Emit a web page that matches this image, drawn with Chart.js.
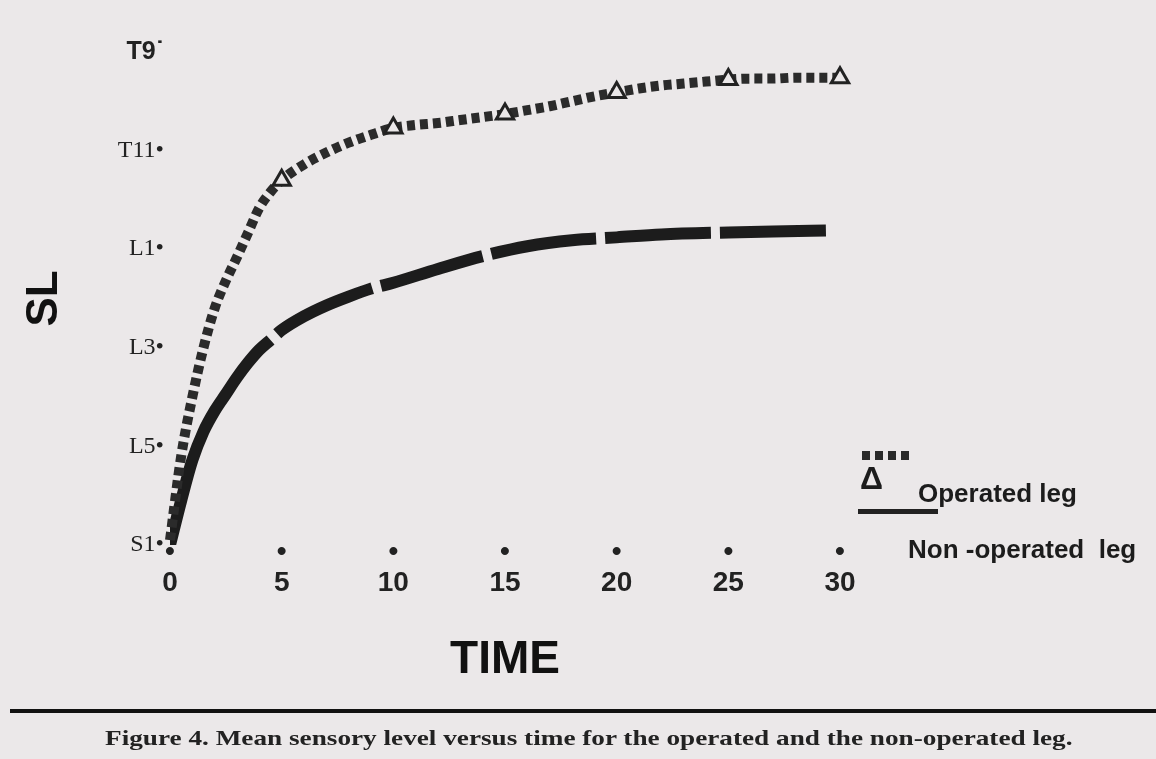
<!DOCTYPE html>
<html lang="en">
<head>
    <meta charset="UTF-8">
    <title>Figure 4 - Mean sensory level versus time</title>
    <script src="https://cdn.jsdelivr.net/npm/chart.js"></script>
    <style>
        html, body { margin: 0; padding: 0; background: #fff; }
        #page {
            position: relative; width: 1156px; height: 759px; overflow: hidden;
            background: #ebe8e9;
        }
        #page canvas { position: absolute; left: 0; top: 0; }
        .legend-text {
            position: absolute; font-family: "Liberation Sans", Arial, sans-serif;
            font-weight: bold; font-size: 26px; color: #1c1c1c; white-space: pre; line-height: 1;
        }
        #squares {
            position: absolute; left: 862px; top: 451px; width: 50px; height: 9px;
            background: repeating-linear-gradient(90deg, #2a2a2a 0 8px, transparent 8px 13px);
        }
        #tri { left: 860px; top: 462px; font-size: 32px; }
        #opLabel { left: 918px; top: 480px; }
        #nonOpLine { position: absolute; left: 858px; top: 509px; width: 80px; height: 5px; background: #222; }
        #nonOpLabel { left: 908px; top: 536px; }
        #rule { position: absolute; left: 10px; top: 709px; width: 1146px; height: 4px; background: #111; }
        #caption {
            position: absolute; left: 105px; top: 726px; transform-origin: 0 0;
            font-family: "Liberation Serif", "Times New Roman", serif; font-weight: bold;
            font-size: 21px; color: #222; white-space: nowrap;
        }
    </style>
</head>
<body>
<div id="page">
    <canvas id="slChart" width="1156" height="759"></canvas>
    <div id="squares"></div>
    <div class="legend-text" id="tri">&#916;</div>
    <div class="legend-text" id="opLabel">Operated leg</div>
    <div id="nonOpLine"></div>
    <div class="legend-text" id="nonOpLabel">Non -operated  leg</div>
    <div id="rule"></div>
    <div id="caption">Figure 4. Mean sensory level versus time for the operated and the non-operated leg.</div>
</div>

<script>
    // sensory levels, bottom to top
    const levelLabels = ['S1', 'L5', 'L3', 'L1', 'T11', 'T9'];
    const timeTicks = [0, 5, 10, 15, 20, 25, 30];

    // operated leg (square dots, triangle every 5)
    const opTime  = [0, 0.5, 1, 1.5, 2, 2.5, 3, 3.5, 4, 4.5, 5, 6, 7, 8, 9, 10, 11, 12, 13, 14, 15,
                     16, 17, 18, 19, 20, 21, 22, 23, 24, 25, 26, 27, 28, 29, 30];
    const opLevel = [0.05, 0.9, 1.5, 2.0, 2.4, 2.68, 2.92, 3.17, 3.42, 3.58, 3.70, 3.86, 3.98, 4.08, 4.16, 4.23,
                     4.26, 4.28, 4.31, 4.34, 4.37, 4.41, 4.45, 4.50, 4.55, 4.59, 4.63, 4.66, 4.68, 4.70, 4.72,
                     4.73, 4.73, 4.74, 4.74, 4.74];

    // non-operated leg (thick dashed)
    const nonOpTime  = [0, 0.5, 1, 1.5, 2, 2.5, 3, 3.5, 4, 4.5, 5, 6, 7, 8, 9, 10, 12, 14, 16, 18, 20, 22, 25, 27, 29.5];
    const nonOpLevel = [0, 0.45, 0.86, 1.15, 1.36, 1.53, 1.70, 1.85, 1.98, 2.08, 2.18, 2.32, 2.43, 2.52, 2.60, 2.66,
                        2.80, 2.93, 3.03, 3.09, 3.12, 3.15, 3.17, 3.18, 3.19];

    const ink = '#222';
    const paper = '#ebe8e9';

    const ctx = document.getElementById('slChart').getContext('2d');
    new Chart(ctx, {
        type: 'line',
        data: {
            datasets: [
                {
                    label: 'Operated leg',
                    data: opTime.map((t, i) => ({ x: t, y: opLevel[i] })),
                    borderColor: '#2b2b2b',
                    borderWidth: 10,
                    borderDash: [8, 5],
                    borderCapStyle: 'butt',
                    cubicInterpolationMode: 'monotone',
                    clip: 20,
                    pointStyle: 'triangle',
                    pointRadius: c => (c.raw && c.raw.x > 0 && c.raw.x % 5 === 0) ? 10 : 0,
                    pointBorderWidth: 3,
                    pointBorderColor: ink,
                    pointBackgroundColor: paper
                },
                {
                    label: 'Non-operated leg',
                    data: nonOpTime.map((t, i) => ({ x: t, y: nonOpLevel[i] })),
                    borderColor: '#1c1c1c',
                    borderWidth: 12,
                    borderCapStyle: 'butt',
                    cubicInterpolationMode: 'monotone',
                    pointRadius: 0,
                    segment: {
                        borderDash: c => c.p0.parsed.x < 4.5 ? [] : [106, 9],
                        borderDashOffset: c => c.p0.parsed.x < 4.5 ? 0 : 106
                    }
                }
            ]
        },
        options: {
            responsive: false,
            animation: false,
            events: [],
            layout: { padding: { left: 16, right: 316, top: 52, bottom: 71 } },
            plugins: { legend: { display: false }, tooltip: { enabled: false } },
            scales: {
                x: {
                    type: 'linear',
                    min: 0, max: 30,
                    afterFit: s => { s.height = 143; },
                    afterBuildTicks: s => { s.ticks = timeTicks.map(v => ({ value: v })); },
                    grid: { display: false, drawTicks: false },
                    border: { display: false },
                    ticks: {
                        padding: -8,
                        color: ink,
                        font: { family: '"Liberation Sans", Arial, sans-serif', size: 28, weight: 'bold', lineHeight: 1.1 },
                        callback: v => ['•', String(v)]
                    },
                    title: {
                        display: true, text: 'TIME', color: '#111', padding: 0,
                        font: { family: '"Liberation Sans", Arial, sans-serif', size: 46, weight: 'bold' }
                    }
                },
                y: {
                    min: 0, max: 5,
                    afterFit: s => { s.width = 154; },
                    afterBuildTicks: s => { s.ticks = levelLabels.map((l, i) => ({ value: i })); },
                    grid: { display: false, drawTicks: false },
                    border: { display: false },
                    ticks: {
                        padding: 6,
                        color: ink,
                        font: c => c.index === levelLabels.length - 1
                            ? { family: '"Liberation Sans", Arial, sans-serif', size: 25, weight: 'bold' }
                            : { family: '"Liberation Serif", "Times New Roman", serif', size: 24 },
                        callback: v => levelLabels[v] + (v === levelLabels.length - 1 ? '˙' : '•')
                    },
                    title: {
                        display: true, text: 'SL', color: '#111', padding: { top: 2, bottom: 0 },
                        font: { family: '"Liberation Sans", Arial, sans-serif', size: 44, weight: 'bold' }
                    }
                }
            }
        }
    });

    // stretch caption to the width it has in the scan
    const cap = document.getElementById('caption');
    cap.style.transform = 'scaleX(' + (967 / cap.offsetWidth) + ')';
</script>
</body>
</html>
